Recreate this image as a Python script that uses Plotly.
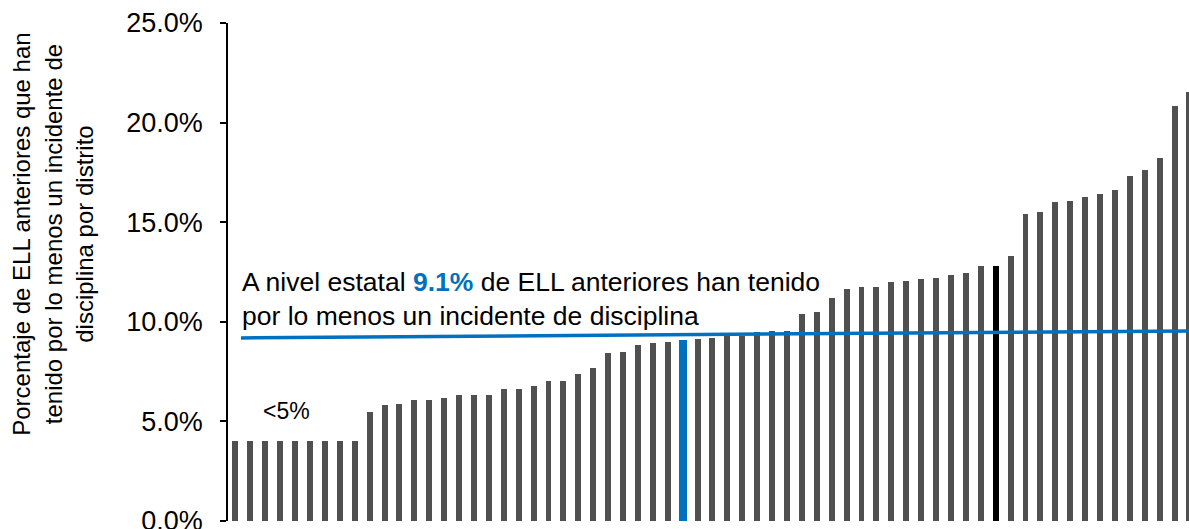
import plotly.graph_objects as go

# ---- data ----
districts = list(range(1, 66))
pct_discipline = [
    4.0, 4.0, 4.0, 4.0, 4.0, 4.0, 4.0, 4.0, 4.0,
    5.47, 5.83, 5.87, 6.05, 6.07, 6.15, 6.33, 6.35, 6.35, 6.63, 6.63,
    6.8, 7.02, 7.05, 7.38, 7.7, 8.45, 8.5, 8.85, 8.92, 8.98,
    9.08, 9.13, 9.2, 9.3, 9.3, 9.5, 9.53, 9.53, 10.38, 10.5,
    11.17, 11.67, 11.73, 11.77, 12.0, 12.03, 12.15, 12.22, 12.33, 12.45,
    12.8, 12.8, 13.28, 15.42, 15.5, 16.02, 16.05, 16.25, 16.4, 16.6,
    17.33, 17.62, 18.22, 20.85, 21.55,
]
state_district = 31      # bar drawn in blue (state level)
highlight_district = 52  # bar drawn in black
state_line_x = [1.37, 65.3]
state_line_y = [9.19, 9.54]
state_value_label = "9.1%"
y_ticks = [0, 5, 10, 15, 20, 25]
y_tick_labels = ["%.1f%%" % v for v in y_ticks]

GRAY = "#505050"
BLUE = "#0070C0"
FONT = "Liberation Sans, Arial, sans-serif"

colors = []
widths = []
for d in districts:
    if d == state_district:
        colors.append(BLUE); widths.append(0.52)
    elif d == highlight_district:
        colors.append("#000000"); widths.append(0.42)
    else:
        colors.append(GRAY); widths.append(0.40)

fig = go.Figure()
fig.add_trace(go.Bar(x=districts, y=pct_discipline, width=widths,
                     marker=dict(color=colors, line=dict(width=0)),
                     hoverinfo="skip", showlegend=False))
fig.add_trace(go.Scatter(x=state_line_x, y=state_line_y, mode="lines",
                         line=dict(color=BLUE, width=3.5),
                         hoverinfo="skip", showlegend=False))

fig.add_annotation(
    x=1.3, y=11.12, xref="x", yref="y", xanchor="left", yanchor="middle",
    align="left", showarrow=False,
    text=("A nivel estatal <b><span style='color:%s'>%s</span></b> de ELL anteriores han tenido"
          "<br>por lo menos un incidente de disciplina") % (BLUE, state_value_label),
    font=dict(family=FONT, size=26.5, color="#000000"),
)
fig.add_annotation(
    x=4.4, y=5.5, xref="x", yref="y", xanchor="center", yanchor="middle",
    showarrow=False, text="&lt;5%",
    font=dict(family=FONT, size=23, color="#000000"),
)
fig.add_annotation(
    x=-0.182, y=0.575, xref="paper", yref="paper", xanchor="center", yanchor="middle",
    textangle=-90, showarrow=False, align="center",
    text="Porcentaje de ELL anteriores que han<br>tenido por lo menos un incidente de<br>disciplina por distrito",
    font=dict(family=FONT, size=24, color="#000000"),
)

fig.update_layout(
    width=1189, height=545,
    margin=dict(l=228, r=0, t=23, b=24),
    paper_bgcolor="white", plot_bgcolor="white",
    bargap=0,
    xaxis=dict(range=[0.5, 64.97], visible=False, showgrid=False, zeroline=False),
    yaxis=dict(range=[0, 25], tickvals=y_ticks, ticktext=y_tick_labels,
               showgrid=False, zeroline=False, showline=True, linecolor="#000000",
               linewidth=1.5, ticks="outside", ticklen=6, tickwidth=1.5, tickcolor="#000000",
               ticklabelstandoff=12,
               tickfont=dict(family=FONT, size=27, color="#000000")),
)

# remove the page's default body margin / scrollbars so the figure sits at the window origin
fig.write_html("out.html", config={"displayModeBar": False},
               post_script="document.body.style.margin='0';document.body.style.overflow='hidden';")
